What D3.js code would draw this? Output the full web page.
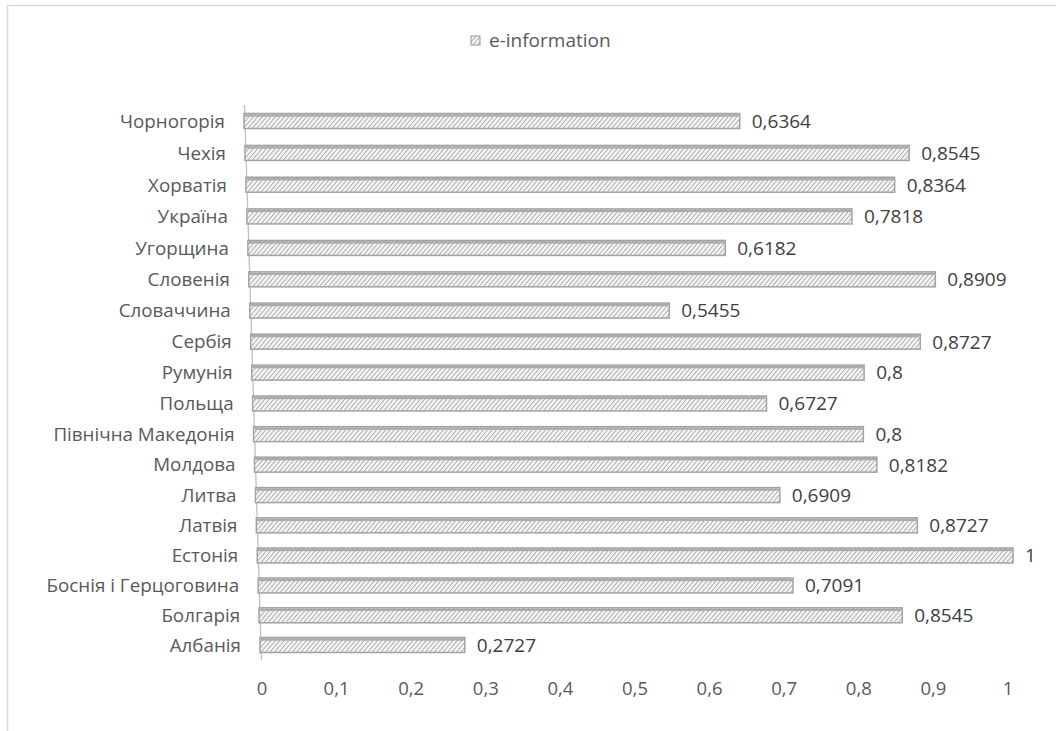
<!DOCTYPE html>
<html>
<head>
<meta charset="utf-8">
<script src="https://cdn.jsdelivr.net/npm/d3@7"></script>
<style>
  body { margin: 0; background: #fff; }
  text { font-family: "Open Sans", "Liberation Sans", sans-serif; }
</style>
</head>
<body>
<svg id="chart" width="1056" height="731"></svg>
<script>
// data, bottom row first
var countries = ["Албанія", "Болгарія", "Боснія і Герцоговина", "Естонія", "Латвія", "Литва",
    "Молдова", "Північна Македонія", "Польща", "Румунія", "Сербія", "Словаччина",
    "Словенія", "Угорщина", "Україна", "Хорватія", "Чехія", "Чорногорія"];
var values = [0.2727, 0.8545, 0.7091, 1, 0.8727, 0.6909, 0.8182, 0.8, 0.6727, 0.8,
    0.8727, 0.5455, 0.8909, 0.6182, 0.7818, 0.8364, 0.8545, 0.6364];
var tickValues = [0, 0.1, 0.2, 0.3, 0.4, 0.5, 0.6, 0.7, 0.8, 0.9, 1];
var seriesName = "e-information";

var svg = d3.select("#chart");
var W = 1056, H = 731;

// chart frame
svg.append("path")
    .attr("d", "M7.5," + H + "V5.5H" + W)
    .attr("fill", "none")
    .attr("stroke", "#d9d9d9")
    .attr("stroke-width", 1.5);

var defs = svg.append("defs");
var pat = defs.append("pattern")
    .attr("id", "hatch")
    .attr("patternUnits", "userSpaceOnUse")
    .attr("width", 3.4)
    .attr("height", 3.4)
    .attr("patternTransform", "rotate(40)");
pat.append("rect").attr("width", 3.4).attr("height", 3.4).attr("fill", "#f4f4f4");
pat.append("line")
    .attr("x1", 0).attr("y1", 0).attr("x2", 0).attr("y2", 3.4)
    .attr("stroke", "#a9a9a9")
    .attr("stroke-width", 1.8);

// 3d-ish perspective: rows get slightly wider apart and shift left going up
var n = countries.length;
function warp(i) { return 29.7 * i + 0.07 * i * (i - 1); }
var depth = d3.scaleLinear().domain([0, warp(n - 1)]).range([645, 121]);
var rowY = function(i) { return depth(warp(i)); };
var baseX = d3.scaleLinear().domain([645, 121]).range([260, 244]);
var unit = d3.scaleLinear().domain([645, 121]).range([751, 779]);

function xAt(y, v) { return baseX(y) + v * unit(y); }

// value axis on the front plane
var x = d3.scaleLinear().domain([0, 1]).range([262, 1008]);

// category axis line
svg.append("line")
    .attr("x1", baseX(660) + 1).attr("y1", 660)
    .attr("x2", baseX(105) + 1).attr("y2", 105)
    .attr("stroke", "#bfbfbf")
    .attr("stroke-width", 1.3);

var barH = 15;
var rows = svg.append("g").attr("class", "bars")
    .selectAll("g")
    .data(countries)
    .enter().append("g");

rows.each(function(name, i) {
    var g = d3.select(this);
    var cy = rowY(i);
    var x0 = baseX(cy), x1 = xAt(cy, values[i]);

    g.append("rect")
        .attr("x", x0)
        .attr("y", cy - barH / 2)
        .attr("width", x1 - x0)
        .attr("height", barH)
        .attr("fill", "url(#hatch)")
        .attr("stroke", "#a3a3a3")
        .attr("stroke-width", 1.5);
    // top face of the bar
    g.append("rect")
        .attr("x", x0 + 1)
        .attr("y", cy - barH / 2 + 0.8)
        .attr("width", x1 - x0 - 2)
        .attr("height", 2.4)
        .attr("fill", "#ababab");

    g.append("text") // category name
        .attr("x", x0 - 19)
        .attr("y", cy)
        .attr("dy", "0.36em")
        .attr("text-anchor", "end")
        .attr("fill", "#595959")
        .attr("font-size", "18.8px")
        .text(name);

    g.append("text") // value
        .attr("x", x1 + 12)
        .attr("y", cy)
        .attr("dy", "0.36em")
        .attr("fill", "#404040")
        .attr("font-size", "19px")
        .text(String(values[i]).replace(".", ","));
});

// tick labels
svg.append("g").selectAll("text")
    .data(tickValues)
    .enter().append("text")
    .attr("x", function(d) { return x(d); })
    .attr("y", 688)
    .attr("dy", "0.36em")
    .attr("text-anchor", "middle")
    .attr("fill", "#595959")
    .attr("font-size", "18.5px")
    .text(function(d) { return String(d).replace(".", ","); });

// legend
var lg = svg.append("g").attr("transform", "translate(471,36)");
lg.append("rect")
    .attr("width", 9).attr("height", 9)
    .attr("fill", "url(#hatch)")
    .attr("stroke", "#999");
lg.append("text")
    .attr("x", 18)
    .attr("y", 4.5)
    .attr("dy", "0.36em")
    .attr("fill", "#595959")
    .attr("font-size", "19px")
    .text(seriesName);
</script>
</body>
</html>
